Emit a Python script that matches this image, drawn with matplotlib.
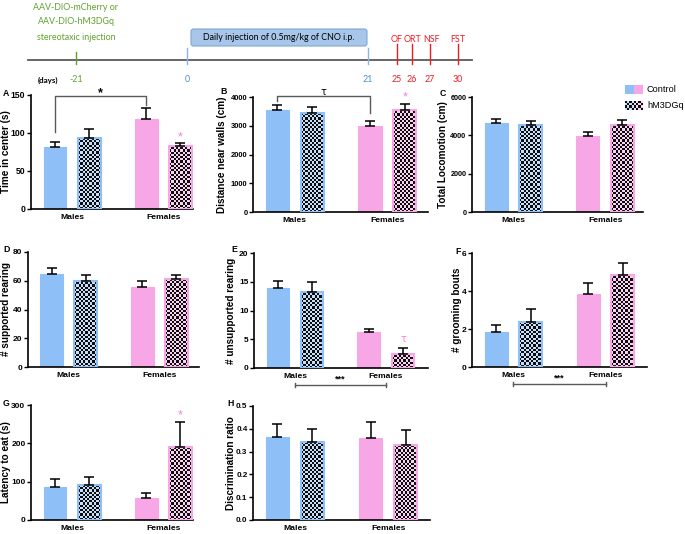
"""
Chemogenetic activation figure: experiment timeline (top) and eight behavioural
bar panels (A-H), Control vs hM3DGq, Males vs Females. Saved as out.png.
"""

import numpy as np
import matplotlib.pyplot as plt
from matplotlib.colors import to_rgb
from matplotlib.patches import FancyBboxPatch, Rectangle
from matplotlib.ticker import FormatStrFormatter

plt.rcParams["font.family"] = ["Liberation Sans", "DejaVu Sans"]

W, H = 685, 534
BLUE = "#8ec0f7"
PINK = "#f7a7e5"
STAR = "#f582dc"
GREEN = "#5fa22d"
TL_BLUE = "#4a8fd8"
RED = "#ee1c25"
GREY = "#5a5a5a"

# ---- data ----
groups = ["Males", "Females"]
conditions = ["Control", "hM3DGq"]
# bar order: male control, male hM3DGq, female control, female hM3DGq
time_center = [81, 93, 118, 83]
time_center_sem = [7, 12, 15, 4.5]
dist_walls = [3560, 3440, 2980, 3560]
dist_walls_sem = [150, 200, 175, 185]
locomotion = [4630, 4550, 3980, 4550]
locomotion_sem = [205, 220, 205, 225]
supported = [65, 60, 56, 61]
supported_sem = [4, 4, 3.5, 3]
unsupported = [14.0, 13.3, 6.3, 2.5]
unsupported_sem = [1.1, 1.6, 0.5, 0.9]
grooming = [1.84, 2.36, 3.83, 4.85]
grooming_sem = [0.36, 0.67, 0.6, 0.64]
latency = [87, 91, 57, 190]
latency_sem = [19, 22, 13, 65]
discrimination = [0.366, 0.34, 0.358, 0.327]
discrimination_sem = [0.054, 0.06, 0.074, 0.069]

timeline_days = ["-21", "0", "21", "25", "26", "27", "30"]
timeline_tests = ["OF", "ORT", "NSF", "FST"]

XPOS = [0, 1.5, 4, 5.5]
GROUP_X = [0.75, 4.75]
COLORS = [BLUE, BLUE, PINK, PINK]

# panel letter, values, sem, ylabel, ymax, ystep, fmt, tick font size,
# rect px (left, right, top, bottom), xmax, ylabel centre x px, letter xy px
PANELS = [
    ("A", time_center, time_center_sem, "Time in center (s)", 150, 50, "%d", 6.2,
     (31, 193, 95, 209), 6.05, 6, (3, 93)),
    ("B", dist_walls, dist_walls_sem, "Distance near walls (cm)", 4000, 1000, "%d", 5.4,
     (253, 428, 97, 212), 6.5, 222, (220, 92)),
    ("C", locomotion, locomotion_sem, "Total Locomotion (cm)", 6000, 2000, "%d", 5.2,
     (472, 643, 97, 212), 6.4, 443, (440, 93)),
    ("D", supported, supported_sem, "# supported rearing", 80, 20, "%d", 6.0,
     (28, 199, 252, 367), 6.5, 6, (3, 250)),
    ("E", unsupported, unsupported_sem, "# unsupported rearing", 20, 5, "%d", 6.0,
     (254, 428, 253, 368), 6.6, 231, (231, 250)),
    ("F", grooming, grooming_sem, "# grooming bouts", 6, 2, "%d", 6.0,
     (472, 647, 253, 367), 6.55, 457, (455, 252)),
    ("G", latency, latency_sem, "Latency to eat (s)", 300, 100, "%d", 6.0,
     (31, 193, 405, 520), 6.05, 6, (3, 404)),
    ("H", discrimination, discrimination_sem, "Discrimination ratio", 0.5, 0.1, "%.1f", 5.8,
     (253, 430, 406, 520), 6.55, 231, (227, 403)),
]


def px_rect(l, r, t, b):
    return [l / W, 1 - b / H, (r - l) / W, (b - t) / H]


def checker(nx, ny, color):
    ii, jj = np.indices((ny, nx))
    light = 0.5 * np.array(to_rgb(color)) + 0.5
    dark = np.array([0.05, 0.05, 0.05])
    return np.where(((ii + jj) % 2 == 0)[..., None], dark, light)


def checker_bar(ax, x, h, color):
    x0, x1 = x - 0.5, x + 0.5
    p0 = ax.transData.transform((x0, 0))
    p1 = ax.transData.transform((x1, h))
    nx = max(1, int(round((p1[0] - p0[0]) / 2.2)))
    ny = max(1, int(round((p1[1] - p0[1]) / 2.2)))
    ax.imshow(checker(nx, ny, color), extent=(x0, x1, 0, h), aspect="auto",
              interpolation="nearest", zorder=2)
    ax.bar(x, h, width=1, facecolor="none", edgecolor=color, linewidth=1.5, zorder=3)


fig = plt.figure(figsize=(W / 100, H / 100), dpi=100)
fig.patch.set_facecolor("white")

axes = {}
for (letter, vals, sem, ylabel, ymax, ystep, fmt, tsize, rect, xmax, ylx, lxy) in PANELS:
    l, r, t, b = rect
    ax = fig.add_axes(px_rect(l, r, t, b))
    ax.set_facecolor("none")
    ax.set_xlim(-1.05, xmax)
    ax.set_ylim(0, ymax)
    for i, (x, v, c) in enumerate(zip(XPOS, vals, COLORS)):
        if i % 2 == 0:
            ax.bar(x, v, width=1, color=c, edgecolor=c, linewidth=0.8, zorder=2)
        else:
            checker_bar(ax, x, v, c)
    ax.errorbar(XPOS, vals, yerr=[np.zeros(4), sem], fmt="none", ecolor="black",
                elinewidth=1.1, capsize=3.6, capthick=1.1, zorder=4)
    ax.set_xlim(-1.05, xmax)
    ax.set_ylim(0, ymax)
    ax.spines["top"].set_visible(False)
    ax.spines["right"].set_visible(False)
    ax.spines["left"].set_linewidth(1.2)
    ax.spines["bottom"].set_linewidth(1.2)
    ax.set_yticks(np.arange(0, ymax + ystep / 2, ystep))
    ax.yaxis.set_major_formatter(FormatStrFormatter(fmt))
    ax.tick_params(axis="y", length=3, width=1, pad=1, labelsize=tsize)
    ax.set_xticks(GROUP_X)
    ax.set_xticklabels(groups)
    ax.tick_params(axis="x", length=0, pad=3.5, labelsize=6.1)
    for lab in ax.get_xticklabels() + ax.get_yticklabels():
        lab.set_fontweight("bold")
    ax.set_ylabel(ylabel, fontsize=7.2, fontweight="bold")
    # ylabel anchor is the right edge of the rotated text
    ax.yaxis.set_label_coords((ylx + 5 - l) / (r - l), 0.5)
    axes[letter] = ax

# ---- significance marks ----
ax = axes["A"]
ax.plot([0, 0, 4, 4], [101, 148.5, 148.5, 137], color=GREY, lw=1, clip_on=False, zorder=5)
ax.text(2, 153, "*", ha="center", va="center", fontsize=9, fontweight="bold", clip_on=False)
ax.text(5.5, 94, "*", ha="center", va="center", fontsize=9, color=STAR, clip_on=False)

ax = axes["B"]
ax.plot([0, 0, 4, 4], [3870, 4045, 4045, 3430], color=GREY, lw=1, clip_on=False, zorder=5)
ax.text(2, 4160, "τ", ha="center", va="center", fontsize=7, clip_on=False,
        family=["DejaVu Sans"])
ax.text(5.5, 3990, "*", ha="center", va="center", fontsize=9, color=STAR, clip_on=False)

ax = axes["E"]
ax.text(5.5, 5.1, "τ", ha="center", va="center", fontsize=7, color=STAR,
        family=["DejaVu Sans"])

ax = axes["G"]
ax.text(5.5, 274, "*", ha="center", va="center", fontsize=9, color=STAR, clip_on=False)

for key in ["E", "F"]:
    ax = axes[key]
    tr = ax.get_xaxis_transform()
    ax.plot([0.75, 4.75], [-0.148, -0.148], color=GREY, lw=1, transform=tr, clip_on=False)
    for x in GROUP_X:
        ax.plot([x, x], [-0.128, -0.168], color=GREY, lw=1, transform=tr, clip_on=False)
    ax.text(2.75, -0.095, "***", ha="center", va="center", fontsize=6.5,
            fontweight="bold", transform=tr, clip_on=False)

# ---- overlay: timeline, legend, panel letters ----
ov = fig.add_axes([0, 0, 1, 1], zorder=10)
ov.patch.set_visible(False)
ov.axis("off")

# legend swatches
ov.add_patch(Rectangle((625, 85), 9, 9, color=BLUE, lw=0))
ov.add_patch(Rectangle((634, 85), 9, 9, color=PINK, lw=0))
ov.imshow(checker(4, 4, BLUE), extent=(625, 634, 110, 101), aspect="auto",
          interpolation="nearest")
ov.imshow(checker(4, 4, PINK), extent=(634, 643, 110, 101), aspect="auto",
          interpolation="nearest")
ov.text(647, 89.5, conditions[0], fontsize=6.6, va="center", ha="left")
ov.text(647, 105.5, conditions[1], fontsize=6.6, va="center", ha="left")

for (letter, *_rest, lxy) in PANELS:
    ov.text(lxy[0], lxy[1], letter, fontsize=6.3, fontweight="bold",
            ha="left", va="center")

# timeline
TL = "Lato"
TSZ = 6.4
ov.plot([28, 472], [60, 60], color=GREY, lw=1.3)
ov.plot([76, 76], [52, 64], color=GREEN, lw=1)
for x in [187, 368]:
    ov.plot([x, x], [48, 64], color="#8ab4e4", lw=1)
for x in [397, 412, 430, 458]:
    ov.plot([x, x], [44, 64], color=RED, lw=1)

for y, line in zip([7, 22, 38], ["AAV-DIO-mCherry or", "AAV-DIO-hM3DGq",
                                 "stereotaxic injection"]):
    ov.text(76, y, line, color=GREEN, fontsize=TSZ, ha="center", va="center",
            family=TL)

box = FancyBboxPatch((191, 29), 176, 17, boxstyle="round,pad=0,rounding_size=2.5",
                     facecolor="#a7c6ea", edgecolor="#7ea7d6", lw=0.8)
ov.add_patch(box)
ov.text(279, 38, "Daily injection of 0.5mg/kg of CNO i.p.", fontsize=TSZ,
        ha="center", va="center", family=TL)

ov.text(48, 80, "(days)", fontsize=5.8, fontweight="bold", ha="center", va="center",
        family=TL)
day_x = [76, 187, 368, 397, 412, 430, 458]
day_c = [GREEN, TL_BLUE, TL_BLUE, RED, RED, RED, RED]
for x, d, c in zip(day_x, timeline_days, day_c):
    ov.text(x, 80, d, color=c, fontsize=TSZ, ha="center", va="center", family=TL)
for x, t in zip([397, 413, 432, 458], timeline_tests):
    ov.text(x, 39, t, color=RED, fontsize=TSZ, ha="center", va="center", family=TL)

ov.set_xlim(0, W)
ov.set_ylim(H, 0)

fig.savefig("out.png", dpi=100, facecolor="white")
